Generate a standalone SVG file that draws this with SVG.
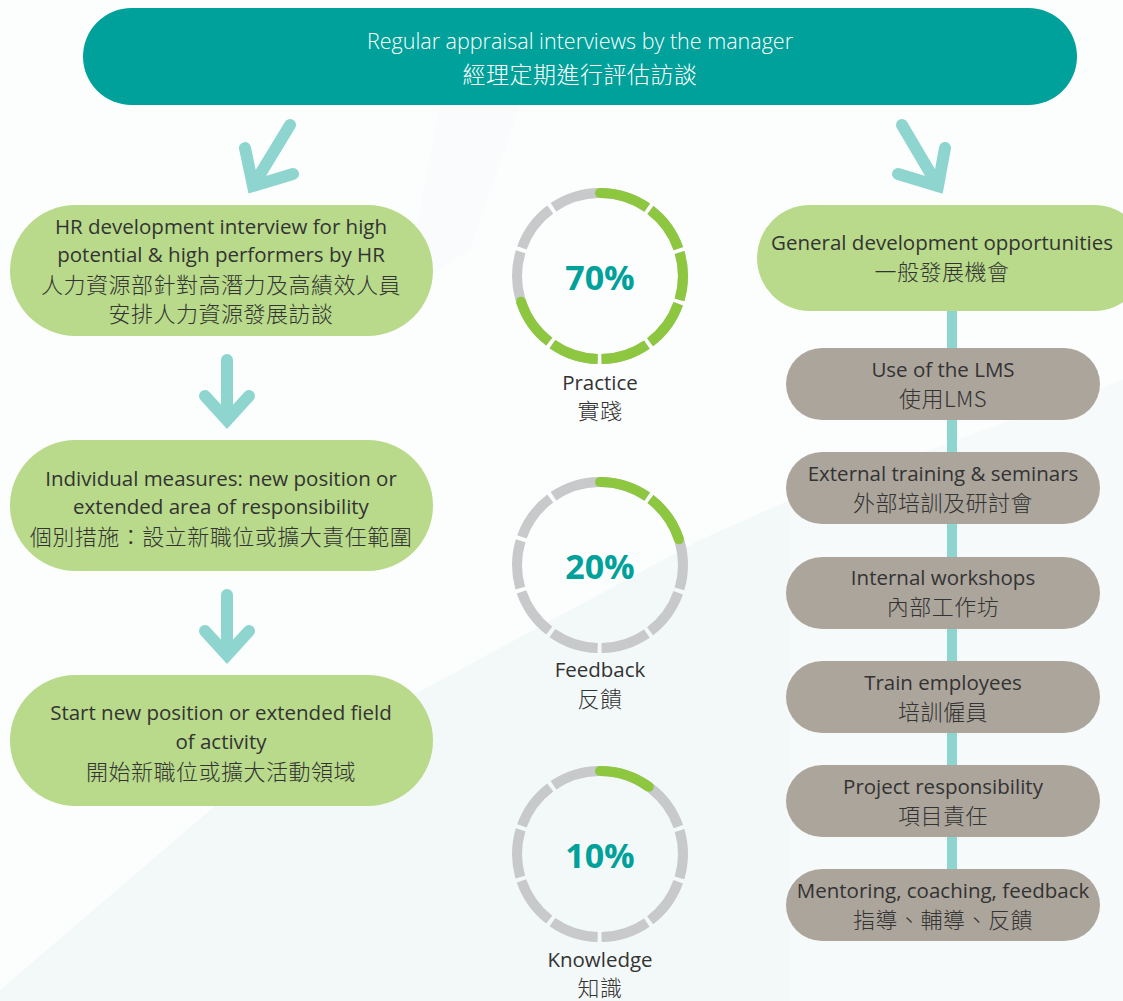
<svg xmlns="http://www.w3.org/2000/svg" width="1123" height="1001" viewBox="0 0 1123 1001">
<defs>
<style>
.t{font-family:"Open Sans","Noto Sans CJK TC",sans-serif;font-size:20.5px;font-weight:400;fill:#333333;text-anchor:middle}
.c{font-family:"Noto Sans CJK TC","Open Sans",sans-serif;font-size:22px;font-weight:300;letter-spacing:0.5px}
.tw{fill:#ffffff}
.top{font-size:21.5px;font-weight:300}
.pct{font-family:"Open Sans","Noto Sans CJK TC",sans-serif;font-size:34px;font-weight:700;fill:#00a19a;text-anchor:middle}
.green{fill:#b8da8a}
.gray{fill:#aca59c}
.arr{fill:none;stroke:#8fd5cf;stroke-width:12;stroke-linecap:round;stroke-linejoin:miter}
.ring{fill:none;stroke:#c8c9cb;stroke-width:10;stroke-dasharray:48.15 4;stroke-dashoffset:-2}
.arc{fill:none;stroke:#8dc63f;stroke-width:10}
.cap{fill:#8dc63f}
</style>
</defs>
<g id="background">
<rect x="0" y="0" width="1123" height="1001" fill="#fcfdfd"/>
<polygon points="0,990 215,806 417,693 700,540 790,500 790,1001 0,1001" fill="#f3f8f9"/>
<polygon points="790,500 1123,380 1123,1001 790,1001" fill="#f6fafa"/>
<polygon points="440,105 520,105 470,250 405,290" fill="#f9fbfc"/>
</g>
<g id="connectors">
<path class="arr" d="M290,125 L253,186 M245,148 L253,186 L293,174"/>
<path class="arr" d="M902,125 L938,186 M898,174 L938,186 L945,148"/>
<path class="arr" d="M227,360 L227,420 M205,396 L227,420 L249,396"/>
<path class="arr" d="M227,595 L227,655 M205,631 L227,655 L249,631"/>
<line x1="952" y1="305" x2="952" y2="925" stroke="#8fd5cf" stroke-width="10"/>
</g>
<g id="top">
<rect x="83" y="8" width="994" height="97" rx="48.5" fill="#00a19a"/>
<text class="t tw top" x="580" y="49">Regular appraisal interviews by the manager</text>
<text class="t c tw" x="580" y="83" style="font-size:23px">經理定期進行評估訪談</text>
</g>
<g id="hr-interview">
<rect class="green" x="10" y="205" width="423" height="131" rx="65.5"/>
<text class="t" x="221" y="234">HR development interview for high</text>
<text class="t" x="221" y="262">potential &amp; high performers by HR</text>
<text class="t c" x="221" y="293">人力資源部針對高潛力及高績效人員</text>
<text class="t c" x="221" y="322">安排人力資源發展訪談</text>
</g>
<g id="individual-measures">
<rect class="green" x="10" y="440" width="423" height="131" rx="65.5"/>
<text class="t" x="221" y="486">Individual measures: new position or</text>
<text class="t" x="221" y="514">extended area of responsibility</text>
<text class="t c" x="221" y="545">個別措施：設立新職位或擴大責任範圍</text>
</g>
<g id="start-new-position">
<rect class="green" x="10" y="675" width="423" height="131" rx="65.5"/>
<text class="t" x="221" y="720">Start new position or extended field</text>
<text class="t" x="221" y="749">of activity</text>
<text class="t c" x="221" y="780">開始新職位或擴大活動領域</text>
</g>
<g id="general-development">
<rect class="green" x="757" y="205" width="390" height="106" rx="53"/>
<text class="t" x="942" y="250">General development opportunities</text>
<text class="t c" x="942" y="280">一般發展機會</text>
</g>
<g id="lms">
<rect class="gray" x="786" y="348" width="314" height="72" rx="36"/>
<text class="t" x="943" y="377">Use of the LMS</text>
<text class="t c" x="943" y="407">使用LMS</text>
</g>
<g id="external-training">
<rect class="gray" x="786" y="452" width="314" height="72" rx="36"/>
<text class="t" x="943" y="481">External training &amp; seminars</text>
<text class="t c" x="943" y="511">外部培訓及研討會</text>
</g>
<g id="internal-workshops">
<rect class="gray" x="786" y="557" width="314" height="72" rx="36"/>
<text class="t" x="943" y="585">Internal workshops</text>
<text class="t c" x="943" y="615">內部工作坊</text>
</g>
<g id="train-employees">
<rect class="gray" x="786" y="661" width="314" height="72" rx="36"/>
<text class="t" x="943" y="690">Train employees</text>
<text class="t c" x="943" y="720">培訓僱員</text>
</g>
<g id="project-responsibility">
<rect class="gray" x="786" y="765" width="314" height="72" rx="36"/>
<text class="t" x="943" y="794">Project responsibility</text>
<text class="t c" x="943" y="824">項目責任</text>
</g>
<g id="mentoring">
<rect class="gray" x="786" y="869" width="314" height="72" rx="36"/>
<text class="t" x="943" y="898">Mentoring, coaching, feedback</text>
<text class="t c" x="943" y="928">指導、輔導、反饋</text>
</g>
<g id="practice">
<circle class="ring" cx="600" cy="276" r="83" transform="rotate(-90 600 276)"/>
<circle class="arc" cx="600" cy="276" r="83" transform="rotate(-90 600 276)" stroke-dasharray="50.15 4 48.15 4 48.15 4 48.15 4 48.15 4 48.15 4 50.15 1000"/>
<circle class="cap" cx="600" cy="193" r="5"/>
<circle class="cap" cx="521.06" cy="301.65" r="5"/>
<text class="pct" x="600" y="290">70%</text>
<text class="t" x="600" y="390">Practice</text>
<text class="t c" x="600" y="419">實踐</text>
</g>
<g id="feedback">
<circle class="ring" cx="600" cy="565" r="83" transform="rotate(-90 600 565)"/>
<circle class="arc" cx="600" cy="565" r="83" transform="rotate(-90 600 565)" stroke-dasharray="50.15 4 50.15 1000"/>
<circle class="cap" cx="600" cy="482" r="5"/>
<circle class="cap" cx="678.94" cy="539.35" r="5"/>
<text class="pct" x="600" y="579">20%</text>
<text class="t" x="600" y="677">Feedback</text>
<text class="t c" x="600" y="707">反饋</text>
</g>
<g id="knowledge">
<circle class="ring" cx="600" cy="854" r="83" transform="rotate(-90 600 854)"/>
<circle class="arc" cx="600" cy="854" r="83" transform="rotate(-90 600 854)" stroke-dasharray="52.15 1000"/>
<circle class="cap" cx="600" cy="771" r="5"/>
<circle class="cap" cx="648.79" cy="786.85" r="5"/>
<text class="pct" x="600" y="868">10%</text>
<text class="t" x="600" y="967">Knowledge</text>
<text class="t c" x="600" y="996">知識</text>
</g>
</svg>
